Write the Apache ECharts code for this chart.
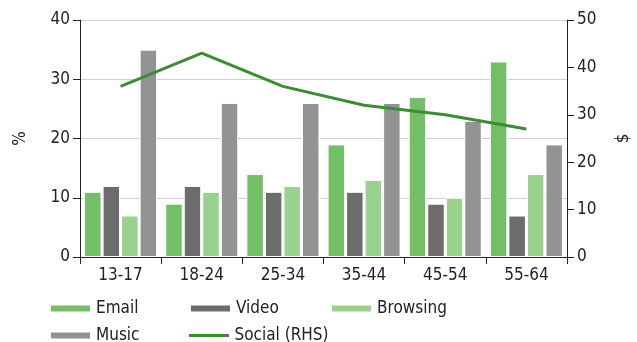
<!DOCTYPE html>
<html>
<head>
<meta charset="utf-8">
<script src="https://cdn.jsdelivr.net/npm/echarts@6/dist/echarts.min.js"></script>
<style>
html,body{margin:0;padding:0;background:#fff;}
#c{width:637px;height:342px;}
</style>
</head>
<body>
<div id="c"></div>
<script>
const categories = ['13-17','18-24','25-34','35-44','45-54','55-64'];
const email = [11, 9, 14, 19, 27, 33];
const video = [12, 12, 11, 11, 9, 7];
const browsing = [7, 11, 12, 13, 10, 14];
const music = [35, 26, 26, 26, 23, 19];
const social = [36, 43, 36, 32, 30, 27];
const leftTicks = [0, 10, 20, 30, 40];
const rightTicks = [0, 10, 20, 30, 40, 50];

const FONT = '"DejaVu Sans Condensed", "Liberation Sans", sans-serif';
const txt = {fontFamily: FONT, fontSize: 17, color: '#222'};
const colors = {Email:'#72bf66', Video:'#6c6c6c', Browsing:'#98d28e', Music:'#939393', Social:'#3d8b35'};

function bar(name, data){
  return {name, type:'bar', data, yAxisIndex:0, barGap:'6%', barCategoryGap:'10%',
    itemStyle:{color:colors[name], borderColor:'#fff', borderWidth:1}, animation:false};
}
function leg(name, left, top, isLine){
  return {data:[{name, icon: isLine ? 'path://M0,0 L40,0 L40,3 L0,3 Z' : 'rect'}], left, top,
    itemWidth:41, itemHeight: isLine?3:8, itemGap:0,
    textStyle:Object.assign({}, txt), padding:0, selectedMode:false};
}
const chart = echarts.init(document.getElementById('c'), null, {renderer:'canvas'});
chart.setOption({
  animation:false,
  grid:{left:80, right:70, top:20, bottom:85, containLabel:false, outerBoundsMode:'none'},
  legend:[
    leg('Email', 49, 300), leg('Video', 189, 300), leg('Browsing', 330, 300),
    leg('Music', 49, 327), leg('Social (RHS)', 189, 327, true)
  ],
  xAxis:{type:'category', data:categories,
    axisLine:{lineStyle:{color:'#222', width:1}},
    axisTick:{show:true, length:7, lineStyle:{color:'#222'}},
    axisLabel:Object.assign({}, txt, {margin:10})},
  yAxis:[
    {type:'value', min:0, max:40, interval:10, name:'%', nameLocation:'middle', nameGap:51, nameRotate:90,
      nameTextStyle:txt,
      axisLine:{show:true, lineStyle:{color:'#222'}},
      axisTick:{show:true, length:7, lineStyle:{color:'#222'}},
      axisLabel:Object.assign({}, txt, {margin:10}),
      splitLine:{show:true, lineStyle:{color:'#d0d0d0', width:1}}},
    {type:'value', min:0, max:50, interval:10, name:'$', nameLocation:'middle', nameGap:48, nameRotate:90,
      nameTextStyle:txt, position:'right',
      axisLine:{show:true, lineStyle:{color:'#222'}},
      axisTick:{show:true, length:7, lineStyle:{color:'#222'}},
      axisLabel:Object.assign({}, txt, {margin:10}),
      splitLine:{show:false}}
  ],
  series:[
    bar('Email', email), bar('Video', video), bar('Browsing', browsing), bar('Music', music),
    {name:'Social (RHS)', type:'line', yAxisIndex:1, data:social, symbol:'none',
      lineStyle:{color:colors.Social, width:3}, itemStyle:{color:colors.Social}, z:5}
  ]
});
</script>
</body>
</html>
